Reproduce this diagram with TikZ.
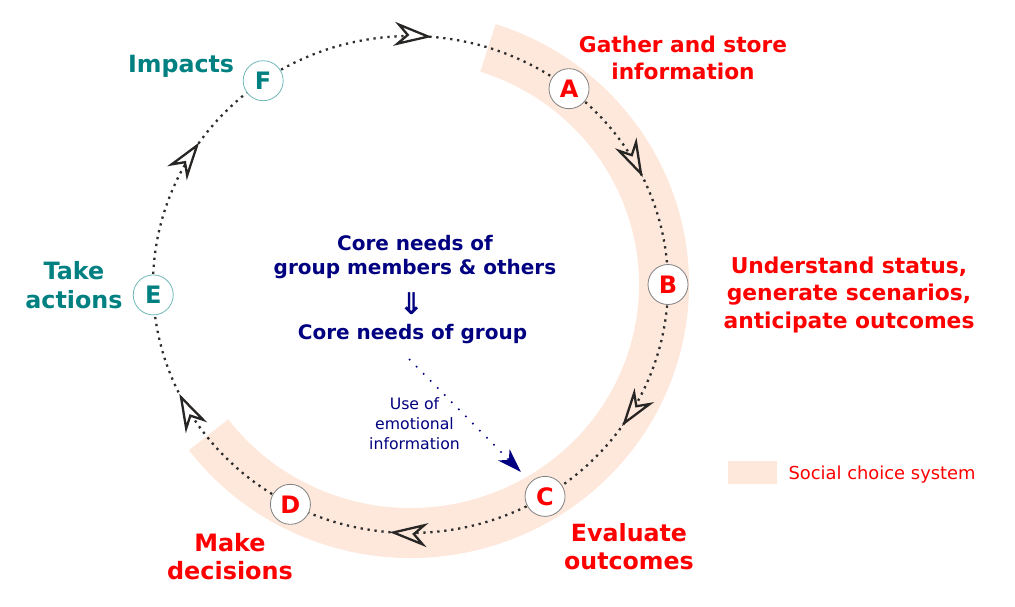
\documentclass[tikz,border=0pt]{standalone}
\usepackage{fontspec}
\setmainfont{DejaVu Sans}
\usetikzlibrary{arrows.meta,decorations.markings,backgrounds}
\definecolor{bandc}{RGB}{254,232,219}
\definecolor{redc}{RGB}{255,0,0}
\definecolor{tealc}{RGB}{0,128,128}
\definecolor{tealline}{RGB}{112,184,184}
\definecolor{navyc}{RGB}{0,0,128}
\definecolor{dotc}{RGB}{45,45,45}
\definecolor{arrc}{RGB}{40,38,36}
\tikzset{
  band/.style={line width=50pt, draw=bandc},
  dotpath/.style={draw=dotc, line width=2.3pt, dash pattern=on 2.3pt off 4.7pt},
  seg/.style 2 args={dotpath, postaction={decorate},
    decoration={markings, mark=at position #1 with {\arrow{Stealth[length=38pt,width=24pt,inset=12pt,line width=2.3pt,color=arrc,fill=#2]}}}},
  stage/.style={circle, fill=white, draw=gray, line width=0.8pt, minimum size=40pt, inner sep=0pt,
    font=\fontsize{24}{24}\selectfont\bfseries, text=redc},
  actstage/.style={stage, draw=tealline, text=tealc},
  redlab/.style={align=center, inner sep=0pt, text=redc},
  teallab/.style={align=center, inner sep=0pt, text=tealc},
  navylab/.style={align=center, inner sep=0pt, text=navyc},
  emoarrow/.style={draw=navyc, line width=1.6pt, dash pattern=on 1.6pt off 8.4pt,
    -{Stealth[length=24pt,width=16pt,inset=7pt,color=navyc,fill=navyc]}, shorten >=14pt},
}
\begin{document}
\begin{tikzpicture}[x=1pt,y=1pt]
\useasboundingbox (0,0) rectangle (1015,-606);
% stage nodes on the ellipse
\node[stage] (A) at ({410.5+257.5*cos(52)},{-284.5+248.5*sin(52)}) {A};
\node[stage] (B) at ({410.5+257.5*cos(0)},{-284.5+248.5*sin(0)}) {B};
\node[stage] (C) at ({410.5+257.5*cos(-58.5)},{-284.5+248.5*sin(-58.5)}) {C};
\node[stage] (D) at ({410.5+257.5*cos(242.2)},{-284.5+248.5*sin(242.2)}) {D};
\node[actstage] (E) at ({410.5+257.5*cos(182.4)},{-284.5+248.5*sin(182.4)}) {E};
\node[actstage] (F) at ({410.5+257.5*cos(124.9)},{-284.5+248.5*sin(124.9)}) {F};
\begin{pgfonlayer}{background}
% social choice band
\draw[band] ({410.5+253.5*cos(72.2)},{-284.5+248.5*sin(72.2)})
  arc[start angle=72.2, end angle=-142.8, x radius=253.5pt, y radius=248.5pt];
% cycle connectors
\draw[seg={0.51}{bandc}] (A.center) arc[start angle=52, end angle=0, x radius=257.5pt, y radius=248.5pt];
\draw[seg={0.59}{bandc}] (B.center) arc[start angle=0, end angle=-58.5, x radius=257.5pt, y radius=248.5pt];
\draw[seg={0.61}{bandc}] (C.center) arc[start angle=-58.5, end angle=-117.8, x radius=257.5pt, y radius=248.5pt];
\draw[seg={0.607}{white}] (D.center) arc[start angle=242.2, end angle=182.4, x radius=257.5pt, y radius=248.5pt];
\draw[seg={0.645}{white}] (E.center) arc[start angle=182.4, end angle=124.9, x radius=257.5pt, y radius=248.5pt];
\draw[seg={0.545}{white}] (F.center) arc[start angle=124.9, end angle=52, x radius=257.5pt, y radius=248.5pt];
\end{pgfonlayer}
% stage labels
\node[redlab, font=\fontsize{21.7}{27.3}\selectfont\bfseries] (labA) at (683,-58.1) {Gather and store\\information};
\node[redlab, font=\fontsize{21.8}{27.6}\selectfont\bfseries] (labB) at (849,-294.6) {Understand status,\\generate scenarios,\\anticipate outcomes};
\node[redlab, font=\fontsize{23.7}{28.3}\selectfont\bfseries] (labC) at (629,-546.9) {Evaluate\\outcomes};
\node[redlab, font=\fontsize{23.9}{28.3}\selectfont\bfseries] (labD) at (230,-556.8) {Make\\decisions};
\node[teallab, font=\fontsize{23.8}{29}\selectfont\bfseries] (labE) at (74,-285.5) {Take\\actions};
\node[teallab, font=\fontsize{23.7}{28}\selectfont\bfseries, anchor=base] (labF) at (181,-72.7) {Impacts};
% centre texts
\node[navylab, font=\fontsize{20}{24}\selectfont\bfseries] (core1) at (415,-257.5) {Core needs of\\group members \& others};
\node[navylab, font=\fontsize{30}{30}\selectfont\bfseries] (imp) at (411.5,-303.5) {⇓};
\node[navylab, font=\fontsize{20}{24}\selectfont\bfseries, anchor=base] (core2) at (412.5,-339.3) {Core needs of group};
\node[navylab, font=\fontsize{15.7}{20}\selectfont] (emo) at (414.5,-424) {Use of\\emotional\\information};
\coordinate (u) at (409,-359);
\draw[emoarrow] (u) -- (C);
% legend
\fill[bandc] (727.7,-461) rectangle (777.3,-484.3);
\node[anchor=base west, inner sep=0pt, text=redc, font=\fontsize{17.9}{20}\selectfont] (leg) at (788.3,-479) {Social choice system};
\end{tikzpicture}
\end{document}
